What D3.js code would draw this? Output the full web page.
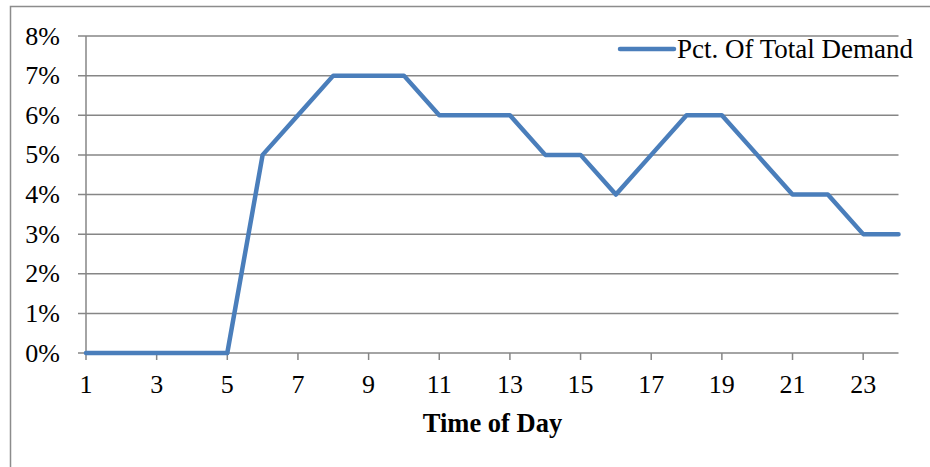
<!DOCTYPE html>
<html><head><meta charset="utf-8">
<script src="https://cdn.jsdelivr.net/npm/d3@7/dist/d3.min.js"></script>
<style>body{margin:0;background:#fff}svg{display:block}</style>
</head><body>
<script>
const hours = d3.range(1, 25);
const demand = [0,0,0,0,0,5,6,7,7,7,6,6,6,5,5,4,5,6,6,5,4,4,3,3];
const yTicks = [0,1,2,3,4,5,6,7,8];
const xTicks = [1,3,5,7,9,11,13,15,17,19,21,23];
const seriesName = "Pct. Of Total Demand";
const xTitle = "Time of Day";

const W = 930, H = 467;
const svg = d3.select("body").append("svg").attr("width", W).attr("height", H);
const font = "'Liberation Serif','Times New Roman',serif";
const fs = 26;

// outer frame
svg.append("path").attr("d", "M10.5,467 V6.5 H930").attr("fill","none").attr("stroke","#8c8c8c").attr("stroke-width",1.5);

const x = d3.scaleLinear().domain([1,24]).range([86,898.5]);
const y = d3.scaleLinear().domain([0,8]).range([353,36]);

// gridlines
svg.append("g").selectAll("line").data(yTicks).join("line")
  .attr("x1",78).attr("x2",898.5).attr("y1",d=>y(d)).attr("y2",d=>y(d))
  .attr("stroke","#868686").attr("stroke-width",1.5);
// y axis line
svg.append("line").attr("x1",86).attr("x2",86).attr("y1",36).attr("y2",353).attr("stroke","#868686").attr("stroke-width",1.5);
// y labels
svg.append("g").selectAll("text").data(yTicks).join("text")
  .attr("x",60).attr("y",d=>y(d)+8.5).attr("text-anchor","end")
  .attr("font-family",font).attr("font-size",fs).attr("fill","#000").text(d=>d+"%");
// x ticks
svg.append("g").selectAll("line").data(xTicks).join("line")
  .attr("x1",d=>x(d)).attr("x2",d=>x(d)).attr("y1",353).attr("y2",360)
  .attr("stroke","#868686").attr("stroke-width",1.5);
svg.append("g").selectAll("text").data(xTicks).join("text")
  .attr("x",d=>x(d)).attr("y",393).attr("text-anchor","middle")
  .attr("font-family",font).attr("font-size",fs).attr("fill","#000").text(d=>d);
// x title
svg.append("text").attr("x",492.5).attr("y",432).attr("text-anchor","middle")
  .attr("font-family",font).attr("font-size",26.5).attr("font-weight","bold").text(xTitle);

// line
const line = d3.line().x((d,i)=>x(hours[i])).y(d=>y(d));
svg.append("path").datum(demand).attr("d",line).attr("fill","none")
  .attr("stroke","#4a7ebb").attr("stroke-width",4.5).attr("stroke-linejoin","round").attr("stroke-linecap","round");

// legend
svg.append("line").attr("x1",620).attr("x2",674).attr("y1",49).attr("y2",49)
  .attr("stroke","#4a7ebb").attr("stroke-width",4.5).attr("stroke-linecap","round");
svg.append("text").attr("x",677).attr("y",57.5)
  .attr("font-family",font).attr("font-size",27).attr("fill","#000").text(seriesName);
</script>
</body></html>
